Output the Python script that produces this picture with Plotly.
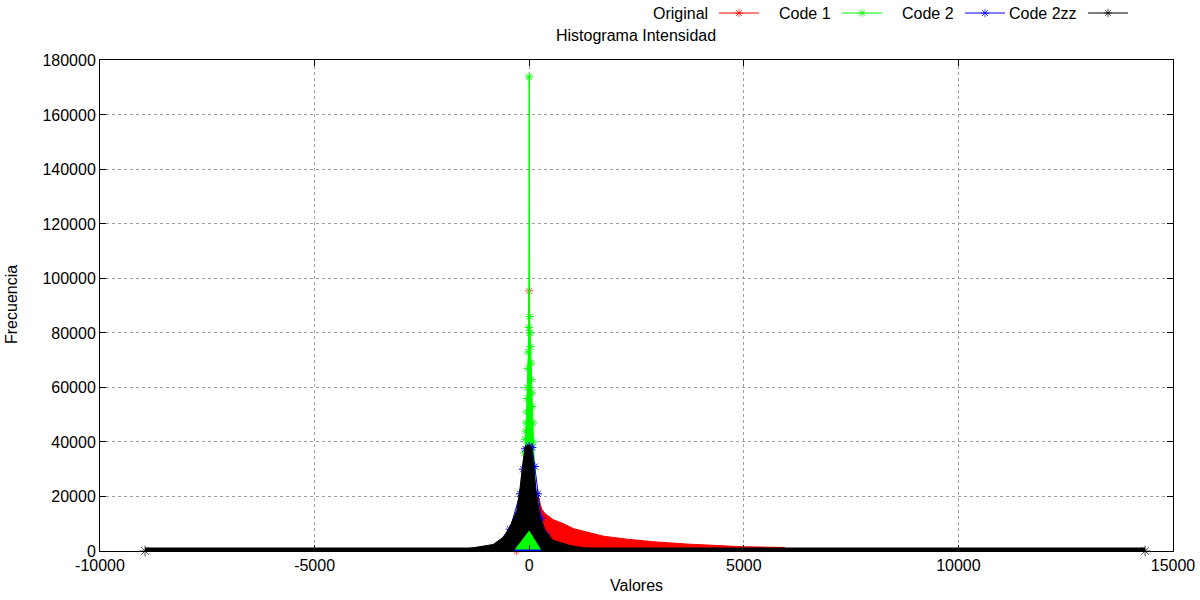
import plotly.graph_objects as go

# Histogram envelopes (value bin -> frequency)
original_x = [-300, -10, 0, 10, 230, 260, 300, 370, 560, 800, 1035, 1345, 1725, 2280, 2890, 3675, 4450,
              5000, 5950, 6000]
original_y = [0, 1500, 95500, 19800, 19500, 17000, 15200, 13700, 11500, 10000, 8200, 7000, 5450, 4350,
              3400, 2550, 1950, 1550, 1300, 0]

code1_x = [-560, -260, -150, -110, -95, -80, -70, -60, -50, -40, -30, -20, -10, 0,
           10, 20, 30, 40, 50, 60, 70, 85, 100, 150, 260, 600]
code1_y = [0, 2500, 15000, 36000, 41000, 44000, 47000, 51000, 56000, 60000, 67000, 73000, 82000, 174000,
           86000, 80000, 75000, 69000, 63000, 58000, 53000, 47000, 40000, 18000, 3000, 0]

code2_x = [-840, -450, -210, -140, -90, 0, 70, 130, 200, 280, 400, 650]
code2_y = [0, 8000, 21000, 30000, 37500, 38500, 38000, 31000, 21000, 12000, 6000, 0]

code2zz_x = [-8950, -1800, -1375, -1140, -840, -610, -450, -290, -210, -150, -95, -20, 20, 60, 115,
             177, 254, 370, 560, 955, 1110, 1600, 14350]
code2zz_y = [0, 200, 1000, 1600, 2400, 5000, 8800, 14900, 23500, 32000, 38200, 38800, 38800, 37700,
             29600, 19800, 12400, 7500, 3900, 2000, 1560, 500, 0]
# lower edge of the Code 2zz cloud (gap around zero where the other series show through)
code2zz_lo_x = [-8950, -365, 0, 295, 14350]
code2zz_lo_y = [0, 0, 7500, 0, 0]

# stretches of empty bins (drawn as a row of markers on the x axis)
code2_zero_x = [-840, 650]
code2zz_zero_x = [-8950, -840, None, 650, 14350]

names = ["Original", "Code 1", "Code 2", "Code 2zz"]
colors = ["#ff0000", "#00ff00", "#0000ff", "#000000"]

x_ticks = [-10000, -5000, 0, 5000, 10000, 15000]
y_ticks = [0, 20000, 40000, 60000, 80000, 100000, 120000, 140000, 160000, 180000]

FONT = "Liberation Sans, Arial, sans-serif"
star = dict(symbol="asterisk-open", size=7, line=dict(width=1))

fig = go.Figure()

# only the peak and the first (zero) bin of the red curve show their points
red_sizes = [7 if (y == max(original_y) or i == 0) else 0 for i, y in enumerate(original_y)]
fig.add_trace(go.Scatter(
    x=original_x, y=original_y, mode="lines+markers", fill="tozeroy",
    fillcolor=colors[0], line=dict(color=colors[0], width=1),
    marker=dict(star, size=red_sizes, color=colors[0], line=dict(color=colors[0], width=1)),
    showlegend=False, cliponaxis=False,
))
fig.add_trace(go.Scatter(
    x=code1_x, y=code1_y, mode="lines+markers", fill="tozeroy",
    fillcolor=colors[1], line=dict(color=colors[1], width=1),
    marker=dict(star, color=colors[1], line=dict(color=colors[1], width=1)),
    showlegend=False,
))
fig.add_trace(go.Scatter(
    x=code2_zero_x, y=[0] * len(code2_zero_x), mode="lines",
    line=dict(color=colors[2], width=3), showlegend=False,
))
fig.add_trace(go.Scatter(
    x=code2_x, y=code2_y, mode="lines+markers",
    line=dict(color=colors[2], width=1),
    marker=dict(star, color=colors[2], line=dict(color=colors[2], width=1)),
    showlegend=False,
))
fig.add_trace(go.Scatter(
    x=code2zz_lo_x, y=code2zz_lo_y, mode="lines",
    line=dict(color=colors[3], width=0), showlegend=False, hoverinfo="skip",
))
fig.add_trace(go.Scatter(
    x=code2zz_x, y=code2zz_y, mode="lines", fill="tonexty",
    fillcolor=colors[3], line=dict(color=colors[3], width=1),
    showlegend=False,
))
band_sizes = [9 if i in (0, len(code2zz_zero_x) - 1) else 0 for i in range(len(code2zz_zero_x))]
fig.add_trace(go.Scatter(
    x=code2zz_zero_x, y=[0 if v is not None else None for v in code2zz_zero_x],
    mode="lines+markers", line=dict(color=colors[3], width=7),
    marker=dict(star, size=band_sizes, color=colors[3], line=dict(color=colors[3], width=1)),
    showlegend=False, cliponaxis=False,
))

# gnuplot-style key: text first, then a short sample line with the point symbol
for i, (name, color) in enumerate(zip(names, colors)):
    right = 710 + 123 * i
    fig.add_trace(go.Scatter(
        x=[right + 9, right + 29, right + 49], y=[13, 13, 13],
        xaxis="x2", yaxis="y2", mode="lines+markers",
        line=dict(color=color, width=1),
        marker=dict(star, size=[0, 7, 0], color=color, line=dict(color=color, width=1)),
        showlegend=False, hoverinfo="skip", cliponaxis=False,
    ))
    fig.add_annotation(
        x=right, y=13, xref="x2", yref="y2", text=name, showarrow=False,
        xanchor="right", yanchor="middle", font=dict(size=16, color="black", family=FONT),
    )

fig.add_annotation(
    x=636, y=35, xref="x2", yref="y2", text="Histograma Intensidad", showarrow=False,
    xanchor="center", yanchor="middle", font=dict(size=16, color="black", family=FONT),
)
fig.add_annotation(
    x=0.5, y=-0.0635, xref="paper", yref="paper", text="Valores", showarrow=False,
    xanchor="center", yanchor="middle", font=dict(size=16, color="black", family=FONT),
)
fig.add_annotation(
    x=-0.082, y=0.4465, xref="paper", yref="paper", text="Frecuencia", showarrow=False,
    textangle=-90, xanchor="center", yanchor="middle", font=dict(size=16, color="black", family=FONT),
)

axis_style = dict(
    showline=True, linecolor="black", linewidth=1, mirror="ticks",
    ticks="inside", ticklen=6, tickcolor="black", tickwidth=1,
    showgrid=True, gridcolor="#a0a0a0", griddash="dot", gridwidth=1,
    zeroline=False, automargin=False, tickfont=dict(size=16, color="black", family=FONT),
)

fig.update_layout(
    width=1200, height=600,
    margin=dict(l=100, r=27, t=0, b=49),
    paper_bgcolor="white", plot_bgcolor="white",
    font=dict(family=FONT, size=16, color="black"),
    xaxis=dict(axis_style, domain=[0, 1], range=[-10000, 15000],
               tickvals=x_ticks, ticktext=[str(v) for v in x_ticks], anchor="y"),
    yaxis=dict(axis_style, domain=[0, 0.8902], range=[0, 180000],
               tickvals=y_ticks, ticktext=[str(v) for v in y_ticks], anchor="x"),
    xaxis2=dict(domain=[0, 1], range=[100, 1173], visible=False, anchor="y2", fixedrange=True),
    yaxis2=dict(domain=[0.92, 1], range=[44, 0], visible=False, anchor="x2", fixedrange=True),
)

fig.write_html("out.html", config={"displayModeBar": False},
               post_script="document.body.style.margin = '0px';")
